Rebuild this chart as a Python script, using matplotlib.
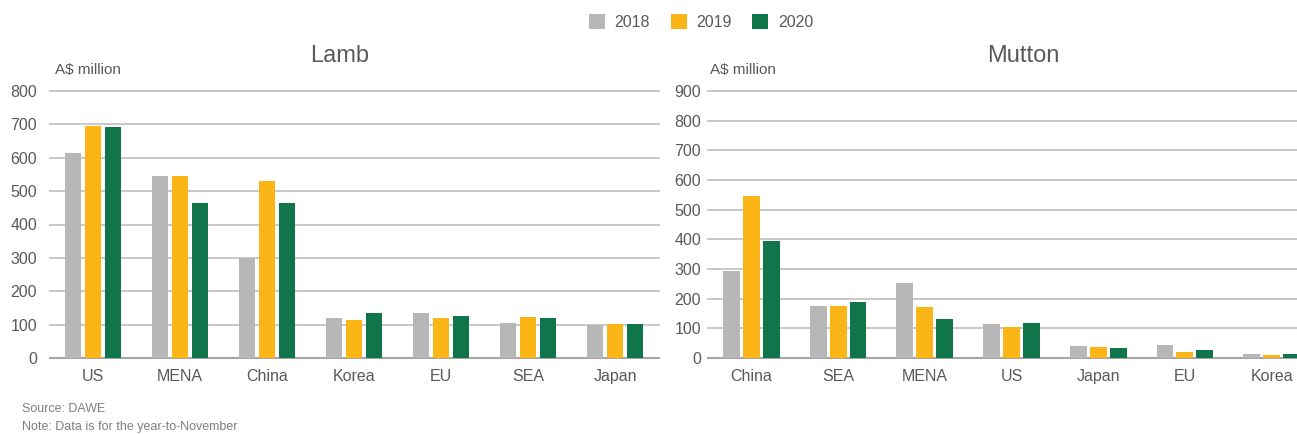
import matplotlib.pyplot as plt
import numpy as np

plt.rcParams['font.family'] = ['Liberation Sans', 'DejaVu Sans']

# data (A$ million)
years = ['2018', '2019', '2020']
colours = ['#b7b7b8', '#fbb516', '#10754a']

lamb_cats = ['US', 'MENA', 'China', 'Korea', 'EU', 'SEA', 'Japan']
lamb_2018 = [613, 546, 300, 120, 134, 106, 100]
lamb_2019 = [695, 546, 531, 115, 120, 124, 103]
lamb_2020 = [691, 464, 464, 134, 126, 120, 103]

mutton_cats = ['China', 'SEA', 'MENA', 'US', 'Japan', 'EU', 'Korea']
mutton_2018 = [294, 176, 253, 115, 41, 45, 15]
mutton_2019 = [546, 176, 173, 105, 38, 21, 11]
mutton_2020 = [395, 189, 132, 119, 35, 28, 15]

grey_txt = '#595959'

fig = plt.figure(figsize=(12.97, 4.34), dpi=100)
W, H = 1297, 434

def panel(rect, cats, series, ymax, step, title, title_x, unit_x, pad):
    ax = fig.add_axes(rect)
    x = np.arange(len(cats))
    bw = 0.195
    gap = 0.23
    for i, vals in enumerate(series):
        ax.bar(x + (i - 1) * gap, vals, width=bw, color=colours[i], label=years[i], zorder=3)
    ax.set_xlim(-0.5, len(cats) - 0.5)
    ax.set_ylim(0, ymax)
    ax.set_yticks(np.arange(0, ymax + 1, step))
    ax.set_xticks(x)
    ax.set_xticklabels(cats)
    ax.tick_params(axis='both', length=0, labelsize=11.5, colors=grey_txt)
    ax.tick_params(axis='y', pad=pad)
    ax.tick_params(axis='x', pad=8)
    for s in ['top', 'right', 'left']:
        ax.spines[s].set_visible(False)
    ax.spines['bottom'].set_color('#a6a6a6')
    ax.spines['bottom'].set_linewidth(1.5)
    ax.yaxis.grid(True, color='#c4c4c4', linewidth=1.3, zorder=0)
    ax.set_axisbelow(True)
    for gl in ax.get_ygridlines():
        gl.set_clip_on(False)
    fig.text(title_x / W, 1 - 56 / H, title, ha='center', va='center', fontsize=17, color=grey_txt)
    fig.text(unit_x / W, 1 - 70 / H, 'A$ million', ha='left', va='center', fontsize=11, color=grey_txt)
    return ax

bottom = (H - 358) / H
height = 267 / H
ax1 = panel([49.5 / W, bottom, 609 / W, height], lamb_cats, [lamb_2018, lamb_2019, lamb_2020],
            800, 100, 'Lamb', 340, 55, 9)
ax2 = panel([708 / W, bottom, 607 / W, height], mutton_cats, [mutton_2018, mutton_2019, mutton_2020],
            900, 100, 'Mutton', 1023, 710, 5)

handles, labels = ax1.get_legend_handles_labels()
fig.legend(handles, labels, loc='center', bbox_to_anchor=(701 / W, 1 - 22 / H), ncol=3, frameon=False,
           fontsize=11.5, handlelength=1.0, handleheight=1.1, handletextpad=0.6, columnspacing=1.3,
           labelcolor=grey_txt)

fig.text(22 / W, 1 - 409 / H, 'Source: DAWE', fontsize=9, color='#7f7f7f', va='center')
fig.text(22 / W, 1 - 427 / H, 'Note: Data is for the year-to-November', fontsize=9, color='#7f7f7f',
         va='center')

fig.savefig('out.png', dpi=100)
